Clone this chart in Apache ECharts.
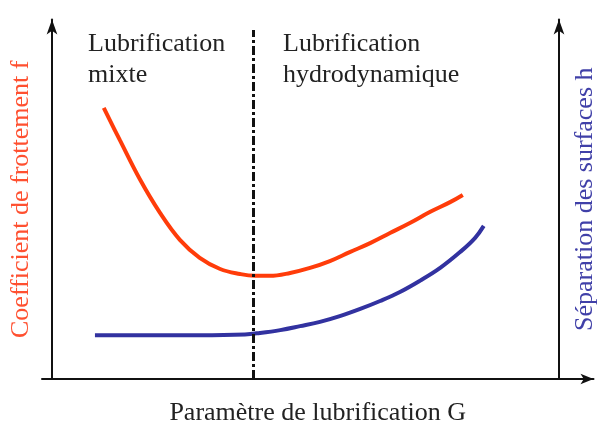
<!DOCTYPE html>
<html>
<head>
<meta charset="utf-8">
<script src="https://cdn.jsdelivr.net/npm/echarts@6/dist/echarts.min.js"></script>
<style>
  html, body { margin: 0; padding: 0; background: #fff; }
  #chart { width: 602px; height: 429px; }
</style>
</head>
<body>
<div id="chart"></div>
<script>
// Stribeck-type curves: friction coefficient and surface separation vs. lubrication parameter
const frictionG = [1.12, 1.41, 1.78, 2.14, 2.50, 2.86, 3.23, 3.59, 3.86, 4.13, 4.50, 4.86, 5.22, 5.58, 5.95, 6.31, 6.67, 7.04, 7.40, 7.63];
const frictionF = [7.54, 6.65, 5.54, 4.62, 3.87, 3.37, 3.06, 2.92, 2.87, 2.87, 2.95, 3.09, 3.28, 3.53, 3.78, 4.06, 4.34, 4.65, 4.92, 5.12];

const separationG = [0.96, 1.96, 2.86, 3.68, 3.95, 4.32, 4.68, 5.04, 5.40, 5.77, 6.13, 6.49, 6.85, 7.22, 7.58, 7.85, 8.01];
const separationH = [1.22, 1.22, 1.22, 1.24, 1.28, 1.36, 1.47, 1.59, 1.75, 1.95, 2.17, 2.42, 2.73, 3.09, 3.53, 3.92, 4.26];

// boundary between the mixed and hydrodynamic regimes
const regimeBoundaryG = 3.83;
const regimeBoundaryTop = 9.71;

const regimeLabels = ['Lubrification\nmixte', 'Lubrification\nhydrodynamique'];
const xAxisTitle = 'Paramètre de lubrification G';
const leftAxisTitle = 'Coefficient de frottement f';
const rightAxisTitle = 'Séparation des surfaces h';

const zip = (xs, ys) => xs.map((x, i) => [x, ys[i]]);

const serif = '"Liberation Serif", "DejaVu Serif", serif';

const chart = echarts.init(document.getElementById('chart'), null, { renderer: 'canvas' });

const axisLineBase = {
  show: true,
  lineStyle: { color: '#111', width: 2 }
};

chart.setOption({
  animation: false,
  backgroundColor: '#fff',
  grid: { left: 42, right: 8.5, top: 19.5, bottom: 50, containLabel: false, outerBoundsMode: 'none' },
  xAxis: {
    type: 'value', min: 0, max: 10,
    name: xAxisTitle,
    nameLocation: 'middle',
    nameGap: 21,
    nameTextStyle: { fontFamily: serif, fontSize: 26, color: '#222' },
    axisLine: Object.assign({}, axisLineBase, { onZero: false, symbol: ['none', 'arrow'], symbolSize: [8, 13] }),
    axisTick: { show: false },
    axisLabel: { show: false },
    splitLine: { show: false }
  },
  yAxis: [
    {
      type: 'value', min: 0, max: 10, position: 'left', offset: -10,
      name: leftAxisTitle,
      nameLocation: 'middle',
      nameRotate: 90,
      nameGap: 18,
      nameTextStyle: { fontFamily: serif, fontSize: 26, color: '#ff5030' },
      axisLine: Object.assign({}, axisLineBase, { symbol: ['none', 'arrow'], symbolSize: [8, 15] }),
      axisTick: { show: false },
      axisLabel: { show: false },
      splitLine: { show: false }
    },
    {
      type: 'value', min: 0, max: 10, position: 'right', offset: -34.5,
      name: rightAxisTitle,
      nameLocation: 'middle',
      nameRotate: 90,
      nameGap: 13,
      nameTextStyle: { fontFamily: serif, fontSize: 26, color: '#4040a8' },
      axisLine: Object.assign({}, axisLineBase, { symbol: ['none', 'arrow'], symbolSize: [8, 15] }),
      axisTick: { show: false },
      axisLabel: { show: false },
      splitLine: { show: false }
    }
  ],
  series: [
    {
      name: 'f',
      type: 'line',
      yAxisIndex: 0,
      data: zip(frictionG, frictionF),
      smooth: 0.4,
      showSymbol: false,
      lineStyle: { color: '#ff3c0a', width: 4 },
      markLine: {
        silent: true,
        symbol: ['none', 'none'],
        label: { show: false },
        lineStyle: { color: '#111', width: 3, type: [9, 3, 3, 3] },
        data: [[{ coord: [regimeBoundaryG, 0] }, { coord: [regimeBoundaryG, regimeBoundaryTop] }]]
      },
      z: 3
    },
    {
      name: 'h',
      type: 'line',
      yAxisIndex: 1,
      data: zip(separationG, separationH),
      smooth: 0.4,
      showSymbol: false,
      lineStyle: { color: '#3232a0', width: 4 },
      z: 3
    }
  ],
  graphic: [
    {
      type: 'text', left: 88, top: 29,
      style: { text: regimeLabels[0], font: '26px ' + serif, fill: '#222', lineHeight: 31 }
    },
    {
      type: 'text', left: 283, top: 29,
      style: { text: regimeLabels[1], font: '26px ' + serif, fill: '#222', lineHeight: 31 }
    }
  ]
});
</script>
</body>
</html>
